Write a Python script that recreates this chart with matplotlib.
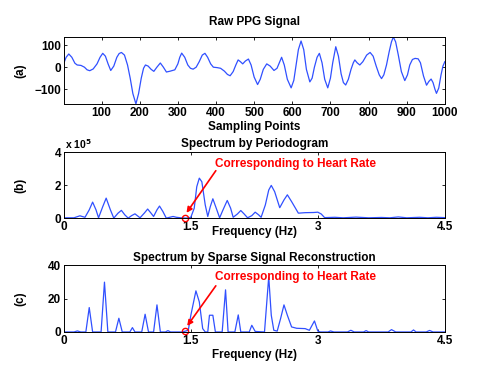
import numpy as np
import matplotlib
matplotlib.use("Agg")
import matplotlib.pyplot as plt

plt.rcParams['font.family'] = ['Liberation Sans', 'DejaVu Sans']
plt.rcParams['font.weight'] = 'bold'
plt.rcParams['axes.labelweight'] = 'bold'
plt.rcParams['axes.titleweight'] = 'bold'
plt.rcParams['mathtext.default'] = 'bf'
plt.rcParams['font.size'] = 8

# raw PPG signal (sample index, amplitude)
ppg_idx = [1, 7, 14, 22, 30, 36, 46, 55, 62, 69, 78, 88, 96, 103, 110, 117, 124,
           132, 140, 146, 152, 160, 168, 175, 182, 190, 197, 204, 210, 215, 222,
           230, 237, 245, 254, 262, 270, 280, 292, 300, 305, 310, 318, 326, 333,
           340, 348, 356, 364, 371, 378, 386, 393, 403, 412, 422, 430, 437, 445,
           452, 458, 464, 470, 477, 485, 492, 500, 509, 516, 524, 533, 542, 552,
           560, 566, 572, 579, 587, 597, 604, 610, 616, 623, 630, 637, 646, 652,
           658, 665, 671, 678, 685, 693, 700, 706, 714, 721, 728, 734, 740, 747,
           754, 760, 764, 770, 777, 785, 795, 804, 812, 820, 828, 834, 840, 847,
           854, 860, 865, 871, 878, 886, 895, 902, 908, 915, 922, 930, 936, 944,
           952, 958, 964, 969, 974, 978, 984, 990, 995, 1000]
ppg_val = [18, 45, 60, 45, 18, 10, 8, 0, -12, -16, -8, 15, 45, 63, 50, 15, -15,
           5, 45, 62, 67, 55, 10, -50, -120, -167, -120, -50, -5, 10, 5,
           -10, -19, 0, 19, 0, -22, -18, -12, 15, 45, 64, 45, 10, -5,
           -9, 0, 25, 55, 63, 45, 15, 0, -2, -5, -18, -33, -39, -20,
           10, 33, 25, 15, 28, 37, 10, -45, -79, -55, -10, 15, 5, -15,
           -5, 20, 45, 10, -55, -94, -60, 10, 80, 119, 80, -10, -67, -50,
           0, 45, 63, 20, -55, -94, -50, 20, 93, 50, -30, -70, -81, -55,
           -10, 20, 33, 20, 10, 25, 55, 67, 50, 5, -35, -52, -35, 10,
           70, 115, 137, 115, 55, -20, -61, -35, 10, 35, 40, 38, 20, -40,
           -82, -65, -54, -70, -100, -119, -95, -35, 5, 25]

# periodogram spectrum (Hz, x 1e5)
pg_freq = [0, 0.12, 0.19, 0.25, 0.30, 0.34, 0.38, 0.41, 0.46, 0.50, 0.55, 0.59,
           0.64, 0.68, 0.72, 0.76, 0.80, 0.84, 0.88, 0.90, 0.95, 0.99, 1.03,
           1.06, 1.10, 1.13, 1.17, 1.21, 1.25, 1.29, 1.33, 1.38, 1.45, 1.50,
           1.54, 1.57, 1.60, 1.63, 1.67, 1.70, 1.73, 1.76, 1.80, 1.84, 1.88,
           1.93, 1.97, 2.00, 2.05, 2.09, 2.13, 2.17, 2.22, 2.26, 2.30, 2.33,
           2.38, 2.42, 2.45, 2.49, 2.55, 2.60, 2.64, 2.69, 2.77, 2.85, 2.95,
           3.00, 3.04, 3.08, 3.20, 3.30, 3.45, 3.60, 3.75, 3.85, 3.95, 4.05,
           4.20, 4.30, 4.40, 4.50]
pg_val = [0.02, 0.02, 0.14, 0.05, 0.5, 0.97, 0.5, 0.02, 0.7, 1.21, 0.5, 0.0,
          0.3, 0.47, 0.2, 0.0, 0.15, 0.26, 0.1, 0.02, 0.3, 0.55, 0.3,
          0.1, 0.5, 0.73, 0.4, 0.0, 0.05, 0.1, 0.05, 0.02, 0.0, 0.05,
          0.6, 1.9, 2.42, 2.2, 0.8, 0.1, 0.7, 1.17, 0.6, 0.02, 0.5,
          1.07, 0.6, 0.05, 0.25, 0.46, 0.25, 0.02, 0.15, 0.36, 0.2, 0.05,
          0.8, 1.7, 1.98, 1.6, 0.63, 1.1, 1.41, 1.0, 0.3, 0.33, 0.34,
          0.36, 0.25, 0.03, 0.05, 0.02, 0.06, 0.02, 0.04, 0.02, 0.07, 0.02,
          0.05, 0.02, 0.05, 0.03]

# sparse signal reconstruction spectrum (Hz, magnitude)
ss_freq = [0, 0.12, 0.16, 0.20, 0.26, 0.30, 0.34, 0.44, 0.48, 0.52, 0.61, 0.65,
           0.69, 0.78, 0.81, 0.84, 0.92, 0.96, 1.00, 1.06, 1.10, 1.14, 1.20,
           1.23, 1.26, 1.40, 1.47, 1.50, 1.56, 1.60, 1.64, 1.67, 1.70, 1.72,
           1.76, 1.79, 1.87, 1.91, 1.94, 2.02, 2.06, 2.09, 2.19, 2.22, 2.26,
           2.37, 2.42, 2.45, 2.48, 2.52, 2.56, 2.60, 2.64, 2.69, 2.75, 2.85,
           2.90, 2.96, 3.00, 3.03, 3.12, 3.15, 3.19, 3.35, 3.39, 3.43, 3.54,
           3.57, 3.60, 3.83, 3.87, 3.92, 4.10, 4.13, 4.16, 4.28, 4.32, 4.36, 4.50]
ss_val = [0, 0, 0.6, 0, 0, 14.6, 0, 0, 29.8, 0, 0, 8.2,
          0, 0, 2.6, 0, 0, 10.6, 0, 0, 16.2, 0, 0,
          0.8, 0, 0, 1, 10, 24.6, 18, 2, 0, 0, 10,
          10, 0, 0, 25.2, 0, 0, 10.2, 0, 0, 4, 0.3,
          0, 33, 10, 1, 0.5, 8, 16.2, 10, 3, 2.2, 2,
          1, 6.6, 0.5, 0, 0, 0.6, 0, 0, 1.0, 0, 0,
          0.8, 0, 0, 1.4, 0, 0, 1.2, 0, 0, 0.9, 0, 0]

hr_freq = 1.43
freq_ticks = [0, 1.5, 3, 4.5]
freq_labels = ['0', '1.5', '3', '4.5']
note = 'Corresponding to Heart Rate'

blue = '#3050ff'
title_size = 8.5

fig = plt.figure(figsize=(4.91, 3.82), dpi=100)
ax_a = fig.add_axes([0.130, 0.728, 0.776, 0.175])
ax_b = fig.add_axes([0.130, 0.429, 0.776, 0.173])
ax_c = fig.add_axes([0.130, 0.131, 0.776, 0.175])

for ax in (ax_a, ax_b, ax_c):
    ax.tick_params(direction='in', length=2.5, width=0.6, top=True, right=True,
                   pad=2, labelsize=8.5)
    for s in ax.spines.values():
        s.set_linewidth(0.7)

# (a)
ax_a.plot(ppg_idx, ppg_val, color=blue, lw=0.9)
ax_a.set_xlim(1, 1000)
ax_a.set_ylim(min(ppg_val), max(ppg_val))
ax_a.set_xticks(range(100, 1001, 100))
ax_a.set_yticks([-100, 0, 100])
ax_a.set_yticklabels(['\u2212100', '0', '100'])
ax_a.set_xlabel('Sampling Points', fontsize=8.5)
ax_a.xaxis.set_label_coords(0.5, -0.25)
ax_a.set_ylabel('(a)', fontsize=8.5)
ax_a.yaxis.set_label_coords(-0.097, 0.5)
ax_a.text(0.5, 1.18, 'Raw PPG Signal', transform=ax_a.transAxes,
          ha='center', va='baseline', fontweight='bold', fontsize=title_size)

# (b)
ax_b.plot(pg_freq, pg_val, color=blue, lw=0.9)
ax_b.plot([hr_freq], [0.0], 'o', mfc='none', mec='red', ms=4.5, mew=1.0, clip_on=False)
ax_b.set_xlim(0, 4.5)
ax_b.set_ylim(0, 4)
ax_b.set_xticks(freq_ticks)
ax_b.set_xticklabels(freq_labels)
ax_b.set_yticks([0, 2, 4])
ax_b.set_xlabel('Frequency (Hz)', fontsize=8.5)
ax_b.xaxis.set_label_coords(0.5, -0.12)
ax_b.set_ylabel('(b)', fontsize=8.5)
ax_b.yaxis.set_label_coords(-0.097, 0.5)
ax_b.text(0.5, 1.076, 'Spectrum by Periodogram', transform=ax_b.transAxes,
          ha='center', va='baseline', fontweight='bold', fontsize=title_size)
ax_b.text(0.002, 1.02, 'x 10$^{5}$', transform=ax_b.transAxes,
          ha='left', va='bottom', fontsize=7.5, fontweight='bold')
ax_b.text(1.783, 3.30, note, color='red', ha='left', va='center', fontsize=8.5,
          fontweight='bold')
ax_b.annotate('', xy=(1.449, 0.32), xytext=(1.795, 2.87),
              arrowprops=dict(arrowstyle='-|>', color='red', lw=1.2,
                              mutation_scale=8, shrinkA=0, shrinkB=0))

# (c)
ax_c.plot(ss_freq, ss_val, color=blue, lw=0.9)
ax_c.plot([hr_freq], [0.5], 'o', mfc='none', mec='red', ms=4.5, mew=1.0, clip_on=False)
ax_c.set_xlim(0, 4.5)
ax_c.set_ylim(0, 40)
ax_c.set_xticks(freq_ticks)
ax_c.set_xticklabels(freq_labels)
ax_c.set_yticks([0, 20, 40])
ax_c.set_xlabel('Frequency (Hz)', fontsize=8.5)
ax_c.xaxis.set_label_coords(0.5, -0.25)
ax_c.set_ylabel('(c)', fontsize=8.5)
ax_c.yaxis.set_label_coords(-0.097, 0.5)
ax_c.text(0.5, 1.06, 'Spectrum by Sparse Signal Reconstruction', transform=ax_c.transAxes,
          ha='center', va='baseline', fontweight='bold', fontsize=title_size)
ax_c.text(1.783, 32.8, note, color='red', ha='left', va='center', fontsize=8.5,
          fontweight='bold')
ax_c.annotate('', xy=(1.457, 3.6), xytext=(1.795, 27.6),
              arrowprops=dict(arrowstyle='-|>', color='red', lw=1.2,
                              mutation_scale=8, shrinkA=0, shrinkB=0))

for ax in (ax_a, ax_b, ax_c):
    for lab in ax.get_xticklabels() + ax.get_yticklabels():
        lab.set_fontweight('bold')

fig.savefig('out.png', dpi=100)
